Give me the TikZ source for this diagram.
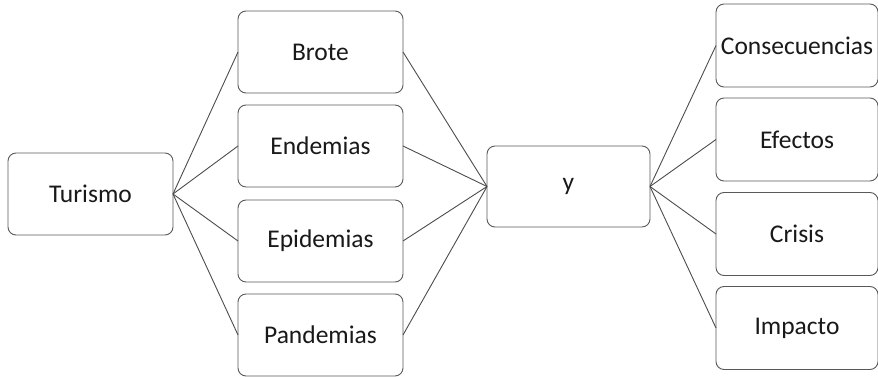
\documentclass[tikz,border=0pt]{standalone}
\usepackage{fontspec}
\setmainfont{Carlito}
\tikzset{
	caja/.style={draw=black!65, line width=0.9pt, rounded corners=8pt, fill=white,
		minimum width=165pt, minimum height=82pt, inner sep=0pt, outer sep=0pt,
		font=\fontsize{25.5}{30}\selectfont, text=black!90},
	rama/.style={draw=black!70, line width=0.9pt}
}
\begin{document}
\begin{tikzpicture}[x=1pt, y=-1pt]
		\useasboundingbox (0,0) rectangle (878,377);
		% izquierda
		\node[caja] (turismo) at (90.5,194) {Turismo};
		% centro
		\node[caja] (brote) at (320.5,52) {Brote};
		\node[caja] (endemias) at (320.5,146) {Endemias};
		\node[caja] (epidemias) at (320.5,241) {Epidemias};
		\node[caja] (pandemias) at (320.5,335) {Pandemias};
		\node[caja, minimum width=163pt, minimum height=81pt] (y) at (568.5,186.5) {y};
		% derecha
		\node[caja, minimum width=162pt, minimum height=83pt] (consecuencias) at (797,45.5) {Consecuencias};
		\node[caja, minimum width=162pt, minimum height=83pt] (efectos) at (797,139.5) {Efectos};
		\node[caja, minimum width=162pt, minimum height=83pt] (crisis) at (797,234) {Crisis};
		\node[caja, minimum width=162pt, minimum height=83pt] (impacto) at (797,328) {Impacto};
		\foreach \n in {brote, endemias, epidemias, pandemias}{
			\draw[rama] (turismo.east) -- (\n.west);
			\draw[rama] (\n.east) -- (y.west);
		}
		\foreach \n in {consecuencias, efectos, crisis, impacto}
			\draw[rama] (y.east) -- (\n.west);
	\end{tikzpicture}
\end{document}
